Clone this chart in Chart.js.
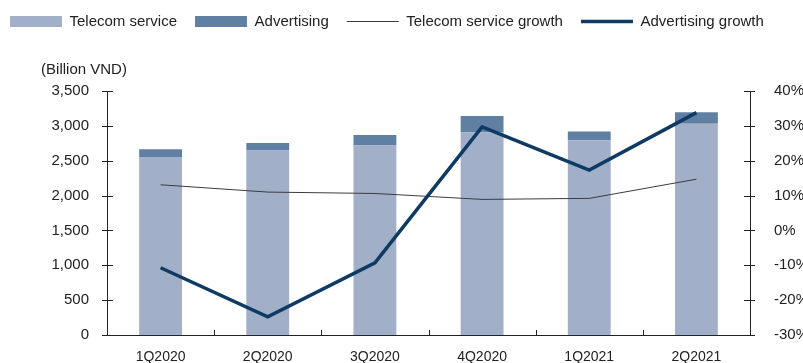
<!DOCTYPE html>
<html><head><meta charset="utf-8">
<script src="https://cdn.jsdelivr.net/npm/chart.js@4/dist/chart.umd.min.js"></script>
<style>html,body{margin:0;padding:0;background:#fff}#wrap{width:803px;height:363px}</style>
</head><body><div id="wrap"><canvas id="c" width="803" height="363"></canvas></div>
<script>
const categories = ['1Q2020','2Q2020','3Q2020','4Q2020','1Q2021','2Q2021'];
const telecomService = [2555, 2645, 2720, 2905, 2790, 3030];
const advertising = [110, 110, 150, 235, 130, 165];
const telecomGrowth = [13.1, 11.0, 10.6, 8.9, 9.2, 14.7];
const advertisingGrowth = [-10.7, -24.8, -9.3, 29.7, 17.3, 33.8];
const leftTicks = [0, 500, 1000, 1500, 2000, 2500, 3000, 3500];
const rightTicks = [-30, -20, -10, 0, 10, 20, 30, 40];

const FONT = 'Liberation Sans';
Chart.defaults.font.family = FONT;
Chart.defaults.font.size = 14;
Chart.defaults.color = '#222';

const legendSpace = {
  id: 'legendSpace',
  beforeInit(chart) {
    const lg = chart.legend;
    if (!lg) return;
    const orig = lg.fit;
    lg.fit = function () { orig.call(this); this.height += 52; };
  }
};

const axisDeco = {
  id: 'axisDeco',
  afterDraw(chart) {
    const ctx = chart.ctx, ca = chart.chartArea;
    const y = chart.scales.y, y1 = chart.scales.y1, x = chart.scales.x;
    ctx.save();
    ctx.strokeStyle = '#222';
    ctx.lineWidth = 1;
    ctx.beginPath();
    y.ticks.forEach(t => { const p = Math.round(y.getPixelForValue(t.value)) + 0.5; ctx.moveTo(ca.left - 5, p); ctx.lineTo(ca.left + 6, p); });
    y1.ticks.forEach(t => { const p = Math.round(y1.getPixelForValue(t.value)) + 0.5; ctx.moveTo(ca.right - 6, p); ctx.lineTo(ca.right + 5, p); });
    for (let i = 1; i < categories.length; i++) {
      const p = Math.round((x.getPixelForValue(i - 1) + x.getPixelForValue(i)) / 2) + 0.5;
      ctx.moveTo(p, ca.bottom); ctx.lineTo(p, ca.bottom - 5);
    }
    ctx.stroke();
    ctx.fillStyle = '#222';
    ctx.font = '15px ' + FONT;
    ctx.textAlign = 'center';
    ctx.textBaseline = 'middle';
    ctx.fillText('(Billion VND)', ca.left - 23, ca.top - 21);
    ctx.restore();
  }
};

function noPad(s) { s.paddingTop = 0; s.paddingBottom = 0; }

new Chart(document.getElementById('c'), {
  data: {
    labels: categories,
    datasets: [
      { type: 'bar', label: 'Telecom service', data: telecomService, yAxisID: 'y', backgroundColor: '#a1b0c8', borderWidth: 0, stack: 's', categoryPercentage: 1, barPercentage: 0.4, pointStyle: 'rect', order: 2 },
      { type: 'bar', label: 'Advertising', data: advertising, yAxisID: 'y', backgroundColor: '#6080a3', borderWidth: 0, stack: 's', categoryPercentage: 1, barPercentage: 0.4, pointStyle: 'rect', order: 2 },
      { type: 'line', label: 'Telecom service growth', data: telecomGrowth, yAxisID: 'y1', borderColor: '#3c3c3c', backgroundColor: '#3c3c3c', borderWidth: 1, pointRadius: 0, tension: 0, pointStyle: 'line', order: 1 },
      { type: 'line', label: 'Advertising growth', data: advertisingGrowth, yAxisID: 'y1', borderColor: '#0e3a63', backgroundColor: '#0e3a63', borderWidth: 3.5, pointRadius: 0, tension: 0, pointStyle: 'line', order: 0 }
    ]
  },
  options: {
    responsive: false,
    animation: false,
    layout: { padding: { left: -8, right: 0, top: -4, bottom: 0 } },
    plugins: {
      tooltip: { enabled: false },
      legend: {
        position: 'top',
        align: 'start',
        labels: {
          usePointStyle: true,
          pointStyleWidth: 52,
          boxHeight: 11,
          padding: 18,
          font: { size: 15 },
          color: '#222',
          sort: (a, b) => a.datasetIndex - b.datasetIndex
        }
      }
    },
    scales: {
      x: {
        stacked: true,
        offset: true,
        grid: { display: false, drawTicks: false },
        border: { display: true, color: '#222', width: 1 },
        ticks: { padding: 14, font: { size: 14 }, color: '#222' },
        afterFit(s) { s.height = 28; s.paddingLeft = 0; s.paddingRight = 0; }
      },
      y: {
        stacked: true,
        position: 'left',
        min: 0, max: 3500,
        afterBuildTicks(s) { s.ticks = leftTicks.map(v => ({ value: v })); },
        grid: { display: false, drawTicks: false },
        border: { display: true, color: '#222', width: 1 },
        ticks: { padding: 18, color: '#222', font: { size: 15 }, callback: v => v.toLocaleString('en-US') },
        afterFit(s) { s.width = 115; noPad(s); }
      },
      y1: {
        position: 'right',
        min: -30, max: 40,
        afterBuildTicks(s) { s.ticks = rightTicks.map(v => ({ value: v })); },
        grid: { display: false, drawTicks: false },
        border: { display: true, color: '#222', width: 1 },
        ticks: { padding: 24, color: '#222', font: { size: 15 }, callback: v => v + '%' },
        afterFit(s) { s.width = 53; noPad(s); }
      }
    }
  },
  plugins: [legendSpace, axisDeco]
});
</script>
</body></html>
